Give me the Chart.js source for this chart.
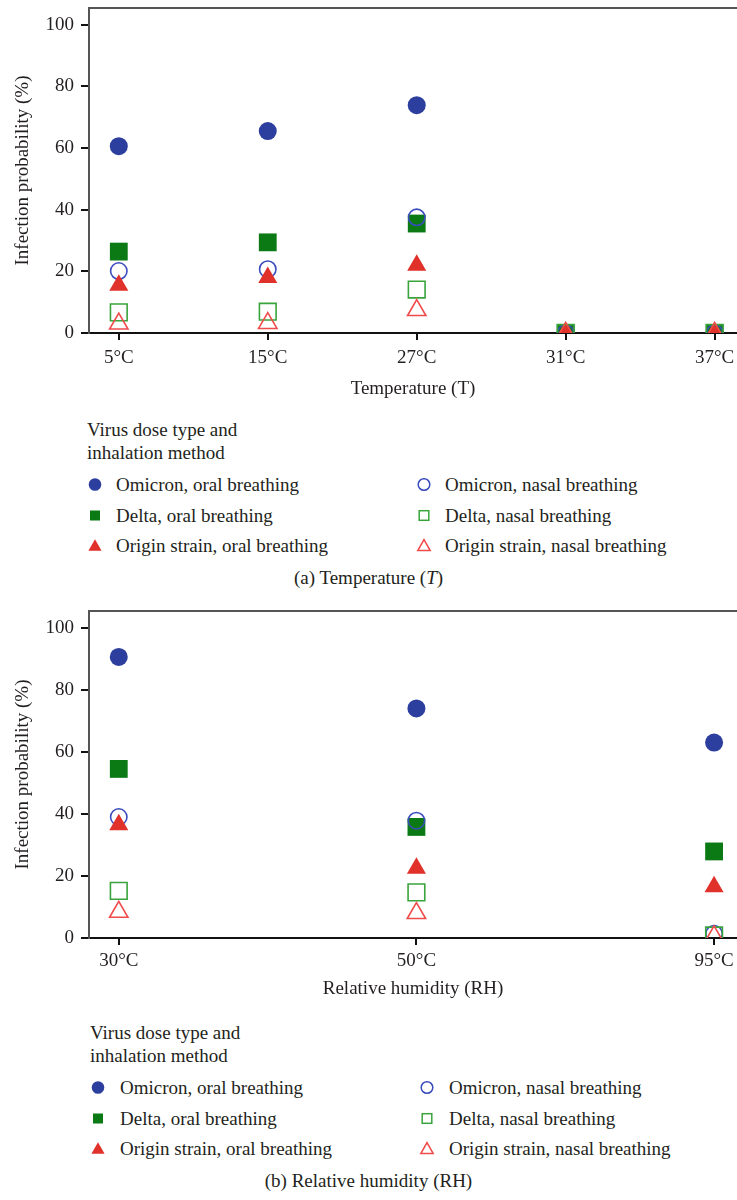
<!DOCTYPE html>
<html>
<head>
<meta charset="utf-8">
<script src="https://cdn.jsdelivr.net/npm/chart.js@4.4.1/dist/chart.umd.min.js"></script>
<style>
  html, body { margin: 0; padding: 0; background: #fff; }
  body { width: 737px; height: 1200px; position: relative; overflow: hidden;
         font-family: "Liberation Serif", "DejaVu Serif", serif; color: #231f20; }
  .panel { position: absolute; left: 0; width: 737px; height: 400px; }
  .legend { position: absolute; left: 0; width: 737px; font-size: 19px; line-height: 23px; }
  .legend .title { position: absolute; white-space: nowrap; }
  .legend .item { position: absolute; white-space: nowrap; height: 23px; }
  .legend .item svg { position: absolute; top: 0; }
  .legend .item span { position: absolute; top: 0; }
  .caption { position: absolute; left: 0; width: 737px; text-align: center; font-size: 19px; line-height: 23px; }
</style>
</head>
<body>
<div class="panel" style="top:0"><canvas id="tempChart" width="737" height="400"></canvas></div>
<div class="legend" id="tempLegend" style="top:418px"></div>
<div class="caption" style="top:566px">(a) Temperature (<i>T</i>)</div>

<div class="panel" style="top:600px"><canvas id="rhChart" width="737" height="400"></canvas></div>
<div class="legend" id="rhLegend" style="top:1021px"></div>
<div class="caption" style="top:1169px">(b) Relative humidity (RH)</div>

<script>
// ---- Panel (a): temperature ----
const tempLabels = ['5°C', '15°C', '27°C', '31°C', '37°C'];
const tempOmicronOral  = [60.6, 65.5, 73.9, 0, 0];
const tempOmicronNasal = [20.1, 20.7, 37.5, 0, 0];
const tempDeltaOral    = [26.4, 29.4, 35.5, 0, 0];
const tempDeltaNasal   = [6.7, 6.9, 14.1, 0, 0];
const tempOriginOral   = [15.5, 18.0, 22.0, 0, 0];
const tempOriginNasal  = [3.0, 3.2, 7.4, 0, 0];

// ---- Panel (b): relative humidity ----
const rhLabels = ['30°C', '50°C', '95°C'];
const rhOmicronOral  = [90.6, 74.0, 63.0];
const rhOmicronNasal = [39.0, 37.8, 1.4];
const rhDeltaOral    = [54.5, 35.8, 27.9];
const rhDeltaNasal   = [15.2, 14.7, 0.8];
const rhOriginOral   = [36.5, 22.5, 16.5];
const rhOriginNasal  = [8.4, 8.0, 0.5];

const yTickValues = [0, 20, 40, 60, 80, 100];

const seriesNames = [
  'Omicron, oral breathing', 'Omicron, nasal breathing',
  'Delta, oral breathing', 'Delta, nasal breathing',
  'Origin strain, oral breathing', 'Origin strain, nasal breathing'
];

const FONT = '"Liberation Serif", "DejaVu Serif", serif';
const TEXT = '#231f20';
const BLUE = '#2c3e9e', BLUE_OPEN = '#3b4cbd';
const GREEN = '#0b7a14', GREEN_OPEN = '#3aa43c';
const RED = '#e0312a', RED_OPEN = '#f04b4b';

// marker styles, one per series (same order as seriesNames)
const styles = [
  { pointStyle: 'circle',   radius: 9,    bg: BLUE,  border: BLUE,       bw: 0,   order: 6 },
  { pointStyle: 'circle',   radius: 8.2,  bg: 'rgba(0,0,0,0)', border: BLUE_OPEN,  bw: 1.6, order: 4 },
  { pointStyle: 'rect',     radius: 12.6, bg: GREEN, border: GREEN,      bw: 0,   order: 5 },
  { pointStyle: 'rect',     radius: 11.8, bg: 'rgba(0,0,0,0)', border: GREEN_OPEN, bw: 1.6, order: 2 },
  { pointStyle: 'triangle', radius: 11,   bg: RED,   border: RED,        bw: 0,   order: 3 },
  { pointStyle: 'triangle', radius: 10.6, bg: 'rgba(0,0,0,0)', border: RED_OPEN,   bw: 1.6, order: 1 }
];

function toPoints(values) {
  return values.map((v, i) => ({ x: i, y: v }));
}

// top edge of the plot frame
const frameTop = {
  id: 'frameTop',
  afterDraw(chart) {
    const { ctx, chartArea } = chart;
    ctx.save();
    ctx.strokeStyle = '#555';
    ctx.lineWidth = 2;
    ctx.beginPath();
    ctx.moveTo(chartArea.left - 1, chartArea.top);
    ctx.lineTo(chartArea.right, chartArea.top);
    ctx.stroke();
    ctx.restore();
  }
};

function noEdgePadding(s) {
  s.paddingTop = 0; s.paddingBottom = 0; s.paddingLeft = 0; s.paddingRight = 0;
}

function makeChart(canvasId, labels, seriesValues, xMin, xMax, xTitle, padTop, xHeight, tickPad, titlePad) {
  const datasets = seriesValues.map((vals, k) => ({
    label: seriesNames[k],
    data: toPoints(vals),
    pointStyle: styles[k].pointStyle,
    pointRadius: styles[k].radius,
    pointHoverRadius: styles[k].radius,
    pointBackgroundColor: styles[k].bg,
    pointBorderColor: styles[k].border,
    pointBorderWidth: styles[k].bw,
    showLine: false,
    order: styles[k].order
  }));
  return new Chart(document.getElementById(canvasId), {
    type: 'scatter',
    data: { datasets },
    options: {
      responsive: false,
      animation: false,
      events: [],
      layout: { autoPadding: false, padding: { top: padTop, left: 0, right: 0, bottom: 0 } },
      plugins: { legend: { display: false }, tooltip: { enabled: false } },
      scales: {
        x: {
          type: 'linear',
          min: xMin,
          max: xMax,
          afterBuildTicks: (s) => { s.ticks = labels.map((_, i) => ({ value: i })); },
          afterFit: (s) => { s.height = xHeight; noEdgePadding(s); },
          ticks: {
            callback: (v) => labels[v],
            color: TEXT,
            font: { family: FONT, size: 19 },
            padding: tickPad,
            maxRotation: 0,
            autoSkip: false
          },
          grid: { display: true, drawOnChartArea: false, drawTicks: true, tickLength: 7, color: '#111', lineWidth: 2 },
          border: { display: true, color: '#111', width: 2 },
          title: { display: true, text: xTitle, color: TEXT, font: { family: FONT, size: 19 }, padding: { top: 0, bottom: titlePad } }
        },
        y: {
          type: 'linear',
          min: 0,
          max: 105.4,
          afterBuildTicks: (s) => { s.ticks = yTickValues.map((v) => ({ value: v })); },
          afterFit: (s) => { s.width = 89; noEdgePadding(s); },
          ticks: { color: TEXT, font: { family: FONT, size: 19 }, padding: 7 },
          grid: { display: true, drawOnChartArea: false, drawTicks: true, tickLength: 8, color: '#111', lineWidth: 2 },
          border: { display: true, color: '#555', width: 2 },
          title: { display: true, text: 'Infection probability (%)', color: TEXT, font: { family: FONT, size: 19 }, padding: { top: 12, bottom: 0 } }
        }
      }
    },
    plugins: [frameTop]
  });
}

makeChart('tempChart', tempLabels,
  [tempOmicronOral, tempOmicronNasal, tempDeltaOral, tempDeltaNasal, tempOriginOral, tempOriginNasal],
  -0.2, 4.15, 'Temperature (T)', 8, 67, 7, 0);

makeChart('rhChart', rhLabels,
  [rhOmicronOral, rhOmicronNasal, rhDeltaOral, rhDeltaNasal, rhOriginOral, rhOriginNasal],
  -0.1, 2.077, 'Relative humidity (RH)', 11, 62, 5, 0);

// ---- legends ----
function markerSvg(k) {
  const s = styles[k];
  const open = s.bw > 0;
  const fill = open ? 'none' : s.bg;
  const stroke = open ? s.border : 'none';
  let shape = '';
  if (s.pointStyle === 'circle') {
    shape = open ? `<circle cx="8" cy="11.5" r="5.8" fill="none" stroke="${stroke}" stroke-width="1.5"/>`
                 : `<circle cx="8" cy="11.5" r="6.3" fill="${fill}"/>`;
  } else if (s.pointStyle === 'rect') {
    shape = open ? `<rect x="3.2" y="6.7" width="9.6" height="9.6" fill="none" stroke="${stroke}" stroke-width="1.5"/>`
                 : `<rect x="3" y="6.5" width="10" height="10" fill="${fill}"/>`;
  } else {
    shape = open ? `<polygon points="8,5.6 14.2,16.6 1.8,16.6" fill="none" stroke="${stroke}" stroke-width="1.5"/>`
                 : `<polygon points="8,5.2 14.6,16.8 1.4,16.8" fill="${fill}"/>`;
  }
  return `<svg width="16" height="23" viewBox="0 0 16 23">${shape}</svg>`;
}

function buildLegend(id, x0, x1, textDx) {
  const el = document.getElementById(id);
  let html = `<div class="title" style="left:${x0 - 8}px;top:0">Virus dose type and</div>` +
             `<div class="title" style="left:${x0 - 8}px;top:23px">inhalation method</div>`;
  const rowsTop = [55, 86, 116];
  for (let r = 0; r < 3; r++) {
    for (let c = 0; c < 2; c++) {
      const k = r * 2 + c;
      const left = c === 0 ? x0 : x1;
      html += `<div class="item" style="left:${left - 8}px;top:${rowsTop[r]}px">` +
              markerSvg(k) + `<span style="left:${textDx}px">${seriesNames[k]}</span></div>`;
    }
  }
  el.innerHTML = html;
}

buildLegend('tempLegend', 95, 424, 29);
buildLegend('rhLegend', 98, 427, 30);
</script>
</body>
</html>
